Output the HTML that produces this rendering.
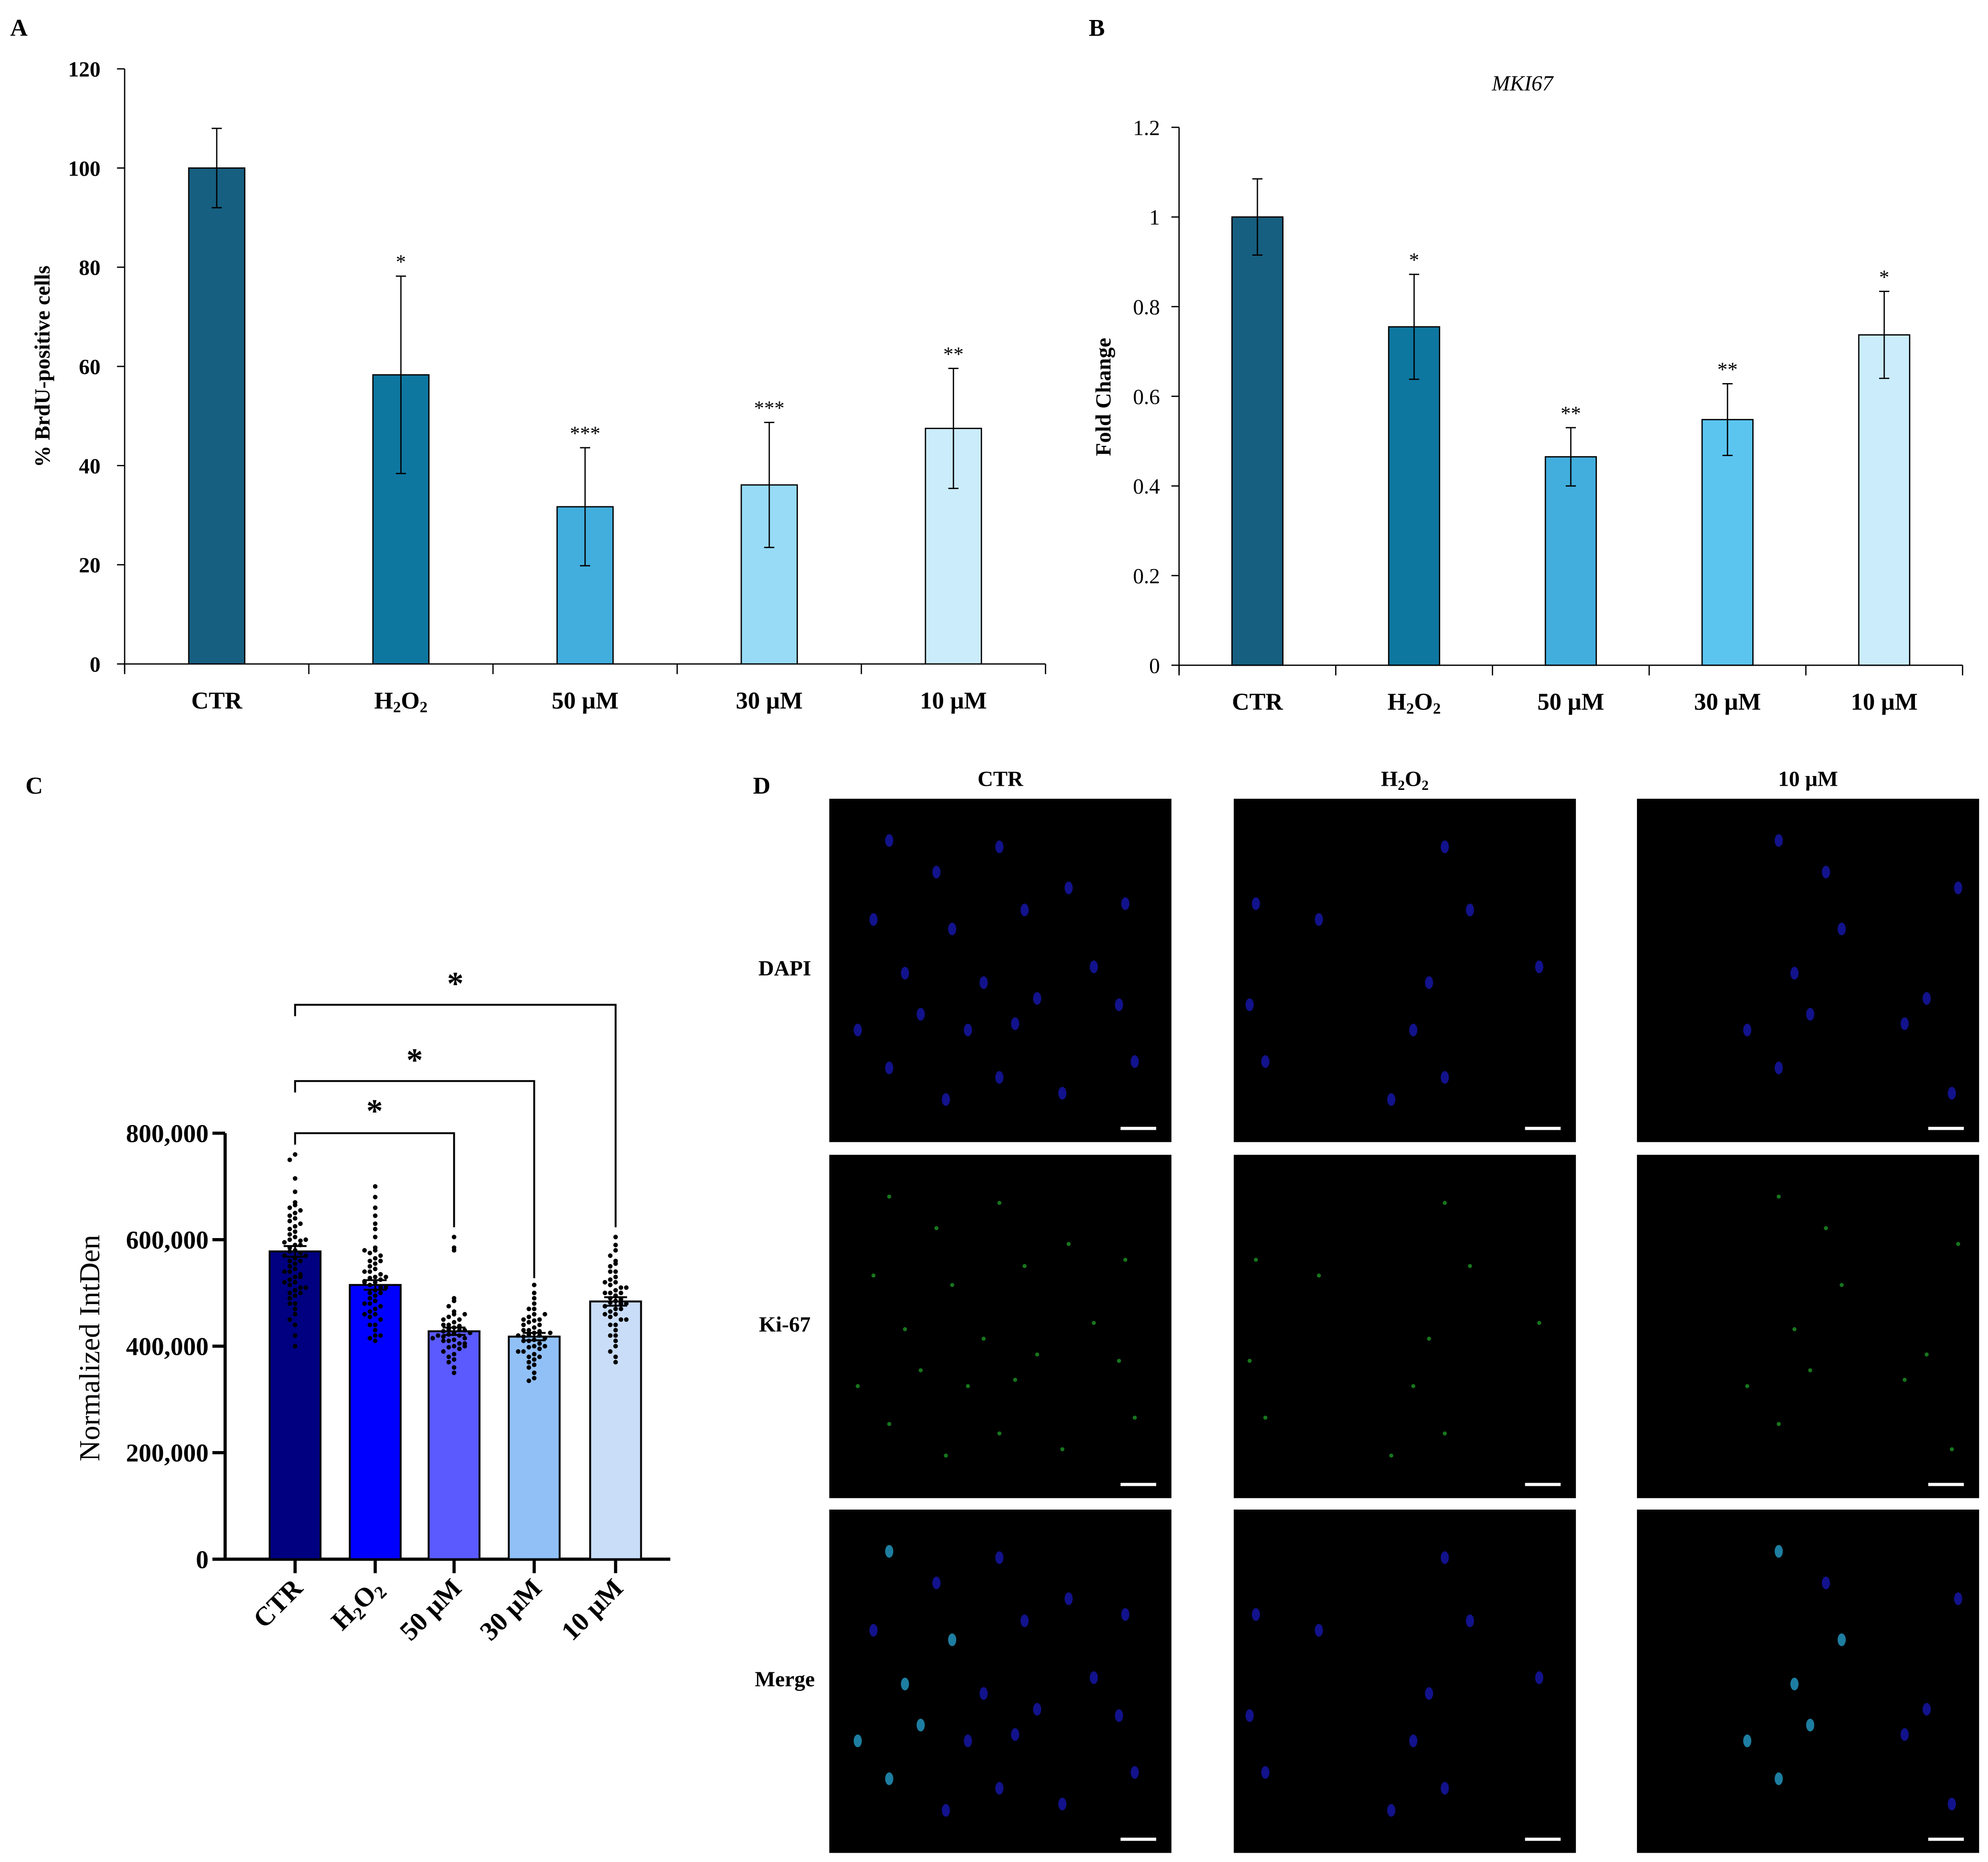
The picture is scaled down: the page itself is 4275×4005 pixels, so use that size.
<!DOCTYPE html>
<html><head><meta charset="utf-8"><style>
html,body{margin:0;padding:0;background:#fff}
svg{display:block}
text{font-family:"Liberation Serif",serif;fill:#000}
</style></head><body>
<svg id="fig" width="4275" height="4005" viewBox="0 0 1563 1464" xmlns="http://www.w3.org/2000/svg">
<rect width="1563" height="1464" fill="#fff"/>
<text x="8" y="28" font-size="19" font-weight="bold">A</text>
<text x="856" y="28" font-size="19" font-weight="bold">B</text>
<text x="20" y="624" font-size="19" font-weight="bold">C</text>
<text x="592" y="624" font-size="19" font-weight="bold">D</text>
<g id="pa"></g>
<g id="pb"></g>
<g id="pc"></g>
<g id="pd"></g>
</svg>
<script>
// ---- Panel A data ----
const catsA = ["CTR","H2O2","50 µM","30 µM","10 µM"];
const valsA = [100, 58.3, 31.7, 36.1, 47.5];
const errA = [8, 19.9, 11.9, 12.6, 12.1];
const starsA = ["", "*", "***", "***", "**"];
const ticksA = [0,20,40,60,80,100,120];
// ---- Panel B data ----
const catsB = ["CTR","H2O2","50 µM","30 µM","10 µM"];
const valsB = [1.0, 0.755, 0.465, 0.548, 0.737];
const errB = [0.085, 0.117, 0.065, 0.08, 0.097];
const starsB = ["", "*", "**", "**", "*"];
const ticksB = [0,0.2,0.4,0.6,0.8,1,1.2];
// ---- Panel C data (thousands) ----
const catsC = ["CTR","H2O2","50 µM","30 µM","10 µM"];
const meansC = [578, 515, 428, 418, 484];
const semC = [10, 9, 7, 7, 8];
const ticksC = [0,200,400,600,800];
const ptsCTR = [760,750,715,690,670,665,660,655,650,645,640,635,630,625,620,615,610,605,600,598,595,590,585,580,578,575,570,565,560,555,550,545,540,535,530,525,520,515,510,505,500,495,490,480,470,460,450,440,420,400,600,590,570,560,540,530,520,510,500,480];
const ptsH2O2 = [700,680,660,645,630,620,605,585,580,575,570,565,560,555,550,545,540,535,530,528,525,522,520,515,510,505,500,495,490,485,480,475,470,465,460,455,450,440,430,420,415,410,580,560,540,520,500,480,460,440,420,530,510];
const pts50 = [605,585,580,490,485,475,465,460,455,450,445,440,438,435,432,430,428,425,422,420,418,415,412,410,405,400,398,395,390,385,380,375,370,360,350,440,430,420,410,400,450,460,425,415,405];
const pts30 = [515,500,490,480,470,460,455,450,448,445,440,435,430,428,425,422,420,418,415,412,410,405,400,398,395,390,385,380,375,370,365,360,350,340,335,450,440,430,420,410,400,390,380,460,470,425];
const pts10 = [605,590,580,570,560,555,550,540,530,525,520,515,510,505,500,495,490,488,485,482,480,475,470,465,460,455,450,440,430,420,410,400,390,380,370,540,520,500,480,460,440,420,500,510,470,450];
const ptsC = [ptsCTR, ptsH2O2, pts50, pts30, pts10];

const NS="http://www.w3.org/2000/svg";
function mk(parent, tag, attrs, txt){
  const e=document.createElementNS(NS,tag);
  for(const k in attrs) e.setAttribute(k,attrs[k]);
  if(txt!==undefined) e.textContent=txt;
  parent.appendChild(e); return e;
}
function catLabel(g, x, y, s, size, weight){
  const t=mk(g,'text',{x:x,y:y,'font-size':size,'text-anchor':'middle','font-weight':weight||'normal'});
  if(s==="H2O2"){
    t.appendChild(document.createTextNode('H'));
    mk(t,'tspan',{'font-size':size*0.65,dy:3},'2');
    mk(t,'tspan',{dy:-3},'O');
    mk(t,'tspan',{'font-size':size*0.65,dy:3},'2');
  } else t.textContent=s;
  return t;
}

// ---- Panel A ----
(function(){
  const g=document.getElementById('pa');
  const x0=98,x1=822,y0=522,ytop=54,maxv=120;
  const ys=v=>y0-(v/maxv)*(y0-ytop);
  const step=(x1-x0)/catsA.length;
  const xs=i=>x0+step*(i+0.5);
  const colors=["#165f80","#0e77a0","#42aedd","#97dbf7","#cbecfb"];
  mk(g,'line',{x1:x0,y1:ytop,x2:x0,y2:y0+6,stroke:'#000','stroke-width':1});
  mk(g,'line',{x1:x0,y1:y0,x2:x1,y2:y0,stroke:'#000','stroke-width':1});
  ticksA.forEach(t=>{
    mk(g,'line',{x1:x0-6,y1:ys(t),x2:x0,y2:ys(t),stroke:'#000'});
    const l=mk(g,'text',{x:x0-19,y:ys(t)+6,'font-size':17,'font-weight':'bold','text-anchor':'end'},t);
    
    
  });
  for(let i=0;i<=catsA.length;i++) mk(g,'line',{x1:x0+step*i,y1:y0,x2:x0+step*i,y2:y0+8,stroke:'#000'});
  const yl=mk(g,'text',{x:0,y:0,'font-size':17,'font-weight':'bold','text-anchor':'middle',transform:'translate(39,288) rotate(-90)'},'% BrdU-positive cells');
  
  
  valsA.forEach((v,i)=>{
    const w=44;
    const r=mk(g,'rect',{x:xs(i)-w/2,y:ys(v),width:w,height:y0-ys(v),fill:colors[i],stroke:'#000','stroke-width':1});
    
    
    mk(g,'line',{x1:xs(i),y1:ys(v+errA[i]),x2:xs(i),y2:ys(v-errA[i]),stroke:'#000'});
    mk(g,'line',{x1:xs(i)-4,y1:ys(v+errA[i]),x2:xs(i)+4,y2:ys(v+errA[i]),stroke:'#000'});
    mk(g,'line',{x1:xs(i)-4,y1:ys(v-errA[i]),x2:xs(i)+4,y2:ys(v-errA[i]),stroke:'#000'});
    if(starsA[i]){ const s=mk(g,'text',{x:xs(i),y:ys(v+errA[i])-6,'font-size':16,'text-anchor':'middle'},starsA[i]);
      
      }
    const c=catLabel(g,xs(i),557,catsA[i],19,'bold');
    
    
  });
})();

// ---- Panel B ----
(function(){
  const g=document.getElementById('pb');
  const x0=927,x1=1543,y0=523,ytop=100,maxv=1.2;
  const ys=v=>y0-(v/maxv)*(y0-ytop);
  const step=(x1-x0)/catsB.length;
  const xs=i=>x0+step*(i+0.5);
  const colors=["#165f80","#0e77a0","#42aedd","#5bc5f0","#cbecfb"];
  mk(g,'line',{x1:x0,y1:ytop,x2:x0,y2:y0+6,stroke:'#000'});
  mk(g,'line',{x1:x0,y1:y0,x2:x1,y2:y0,stroke:'#000'});
  ticksB.forEach(t=>{
    mk(g,'line',{x1:x0-6,y1:ys(t),x2:x0,y2:ys(t),stroke:'#000'});
    const l=mk(g,'text',{x:x0-15,y:ys(t)+6,'font-size':17,'text-anchor':'end'},t);
    
    
  });
  for(let i=0;i<=catsB.length;i++) mk(g,'line',{x1:x0+step*i,y1:y0,x2:x0+step*i,y2:y0+8,stroke:'#000'});
  const yl=mk(g,'text',{x:0,y:0,'font-size':17,'font-weight':'bold','text-anchor':'middle',transform:'translate(873,312) rotate(-90)'},'Fold Change');
  
  
  const tt=mk(g,'text',{x:1197,y:71,'font-size':17,'font-style':'italic','text-anchor':'middle'},'MKI67');
  
  
  valsB.forEach((v,i)=>{
    const w=40;
    const r=mk(g,'rect',{x:xs(i)-w/2,y:ys(v),width:w,height:y0-ys(v),fill:colors[i],stroke:'#000'});
    
    
    mk(g,'line',{x1:xs(i),y1:ys(v+errB[i]),x2:xs(i),y2:ys(v-errB[i]),stroke:'#000'});
    mk(g,'line',{x1:xs(i)-4,y1:ys(v+errB[i]),x2:xs(i)+4,y2:ys(v+errB[i]),stroke:'#000'});
    mk(g,'line',{x1:xs(i)-4,y1:ys(v-errB[i]),x2:xs(i)+4,y2:ys(v-errB[i]),stroke:'#000'});
    if(starsB[i]){ const s=mk(g,'text',{x:xs(i),y:ys(v+errB[i])-6,'font-size':16,'text-anchor':'middle'},starsB[i]);
      
      }
    const c=catLabel(g,xs(i),558,catsB[i],19,'bold');
    
    
  });
})();

// ---- Panel C ----
(function(){
  const g=document.getElementById('pc');
  const x0=177,x1=527,y0=1226,ytop=891,maxv=800;
  const ys=v=>y0-(v/maxv)*(y0-ytop);
  const centers=[232,295,357,420,484];
  const colors=["#000080","#0000ff","#5a5aff","#91c0f7","#c9ddf8"];
  mk(g,'line',{x1:x0,y1:ytop,x2:x0,y2:y0,stroke:'#000','stroke-width':2.5});
  mk(g,'line',{x1:x0-2,y1:y0,x2:x1,y2:y0,stroke:'#000','stroke-width':2.5});
  ticksC.forEach(t=>{
    mk(g,'line',{x1:x0-10,y1:ys(t),x2:x0,y2:ys(t),stroke:'#000','stroke-width':2.5});
    const lab = t===0?'0':(t+',000');
    const l=mk(g,'text',{x:x0-13,y:ys(t)+7,'font-size':20,'font-weight':'bold','text-anchor':'end'},lab);
    
    
  });
  const yl=mk(g,'text',{x:0,y:0,'font-size':23,'text-anchor':'middle',transform:'translate(78,1060) rotate(-90)'},'Normalized IntDen');
  
  
  meansC.forEach((m,i)=>{
    const cx=centers[i], w=40;
    const r=mk(g,'rect',{x:cx-w/2,y:ys(m),width:w,height:y0-ys(m),fill:colors[i],stroke:'#000','stroke-width':1.5});
    
    
    mk(g,'line',{x1:cx,y1:y0,x2:cx,y2:y0+11,stroke:'#000','stroke-width':2.5});
    const bins={};
    ptsC[i].forEach(v=>{
      const b=Math.round(v/12);
      bins[b]=(bins[b]||0)+1;
      const k=bins[b]-1;
      const off=(k%2===0?1:-1)*Math.ceil(k/2)*4.2;
      const d=mk(g,'circle',{cx:cx+off,cy:ys(v),r:1.8,fill:'#000'});
      
      
    });
    mk(g,'line',{x1:cx,y1:ys(m+semC[i]),x2:cx,y2:ys(m-semC[i]),stroke:'#000','stroke-width':1.5});
    mk(g,'line',{x1:cx-9,y1:ys(m+semC[i]),x2:cx+9,y2:ys(m+semC[i]),stroke:'#000','stroke-width':1.5});
    mk(g,'line',{x1:cx-9,y1:ys(m-semC[i]),x2:cx+9,y2:ys(m-semC[i]),stroke:'#000','stroke-width':1.5});
    const t=mk(g,'text',{x:0,y:0,'font-size':21,'font-weight':'bold','text-anchor':'end',transform:'translate('+(cx+7)+',1250) rotate(-45)'});
    if(catsC[i]==="H2O2"){ t.appendChild(document.createTextNode('H'));mk(t,'tspan',{'font-size':14,dy:4},'2');mk(t,'tspan',{dy:-4},'O');mk(t,'tspan',{'font-size':14,dy:4},'2'); }
    else t.textContent=catsC[i];
    
    
  });
  const br=[[0,2,891,965,868],[0,3,850,1005,828],[0,4,790,965,768]];
  br.forEach((b,j)=>{
    const xa=centers[b[0]], xb=centers[b[1]];
    const p=mk(g,'path',{d:'M'+xa+','+(b[2]+9)+' V'+b[2]+' H'+xb+' V'+b[3],fill:'none',stroke:'#000','stroke-width':1.5});
    
    
    const s=mk(g,'text',{x:(xa+xb)/2,y:b[4]+14,'font-size':26,'font-weight':'bold','text-anchor':'middle'},'*');
    
    
  });
})();

// ---- Panel D ----
(function(){
  const g=document.getElementById('pd');
  const cols=[652,970,1287], rows=[628,908,1187], W=269, H=270;
  const heads=["CTR","H2O2","10 µM"], rowl=["DAPI","Ki-67","Merge"];
  heads.forEach((h,i)=>{const t=catLabel(g,cols[i]+W/2,618,h,17,'bold');
    
    });
  rowl.forEach((r,j)=>{const t=mk(g,'text',{x:617,y:rows[j]+H/2+4,'font-size':17,'font-weight':'bold','text-anchor':'middle'},r);
    
    });
  const nuc=[[0.15,0.1],[0.5,0.12],[0.3,0.2],[0.1,0.35],[0.35,0.38],[0.58,0.32],[0.72,0.25],[0.9,0.3],[0.2,0.52],[0.45,0.55],[0.62,0.6],[0.8,0.5],[0.25,0.65],[0.4,0.7],[0.55,0.68],[0.88,0.62],[0.15,0.82],[0.5,0.85],[0.7,0.9],[0.93,0.8],[0.05,0.7],[0.33,0.92]];
  cols.forEach((cx,i)=>rows.forEach((ry,j)=>{
    const r=mk(g,'rect',{x:cx,y:ry,width:W,height:H,fill:'#000'});
    
    
    nuc.forEach((n,k)=>{
      if((k+i)%(i===0?1:2)) return;
      const fill = j===1?'#1fa82a':(j===2&&k%4===0?'#2ab3e6':'#1a1ac8');
      mk(g,'ellipse',{cx:cx+((n[0]+i*0.13)%1)*W*0.92+10,cy:ry+n[1]*H*0.92+8,rx:j===1?1.6:3.2,ry:j===1?1.6:5,fill:fill,opacity:0.7});
    });
    mk(g,'rect',{x:cx+W-40,y:ry+H-12,width:28,height:2.5,fill:'#fff'});
  }));
})();
</script>
</body></html>
